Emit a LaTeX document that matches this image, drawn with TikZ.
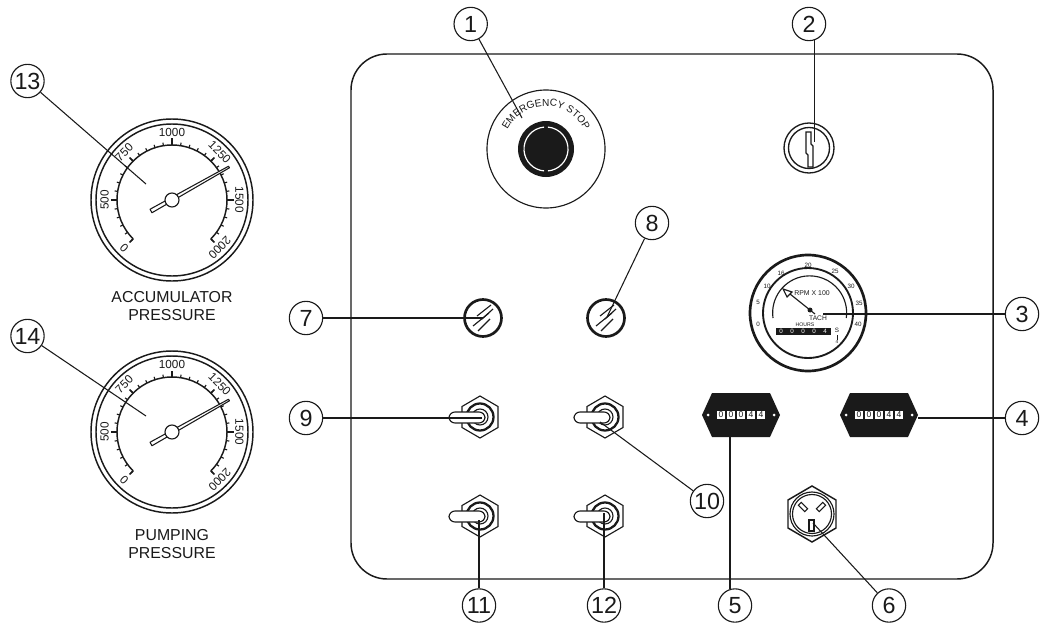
\documentclass[tikz,border=0pt]{standalone}
\usepackage{fontspec}
\setmainfont{Liberation Sans}
\usetikzlibrary{decorations.text,calc}
\definecolor{ink}{HTML}{1A1A1A}
\newcommand{\fs}[1]{\fontsize{#1}{#1}\selectfont}
\tikzset{
  x=.75pt,y=.75pt,
  ln/.style={draw=ink,line width=.85pt},
  leader/.style={draw=ink,line width=.8pt},
  callout/.style={circle,draw=ink,line width=.85pt,minimum size=25pt,inner sep=0pt,font=\fs{17.5},text=ink},
  dial/.style={font=\fs{8.8},text=ink,inner sep=0pt},
  caption/.style={font=\fs{11.9},text=ink,inner sep=0pt,align=center},
  tiny/.style={font=\fs{4.7},text=ink,inner sep=0pt},
}
\newcommand{\gauge}[7]{%
 \begin{scope}[shift={(#2,-#3)}]
  \coordinate (#1) at (0,0);
  \draw[ln,line width=1.1pt] (0,0) circle (81);
  \draw[ln,line width=1.1pt] (0,0) circle (76);
  \draw[ln,line width=1.1pt] (225:55) arc (225:-45:55);
  \foreach \a in {225,216,...,-45} {\draw[ln] (\a:55) -- (\a:58);}
  \foreach \a in {225,135,45,-45} {\draw[ln,line width=1.1pt] (\a:55) -- (\a:60);}
  \foreach \a in {180,90,0} {\draw[ln,line width=1.3pt] (\a:55) -- (\a:61.5);}
  \foreach \a/\t in {225/0,180/500,135/750,90/1000,45/1250,0/1500,-45/2000}
    {\pgfmathsetmacro\r{\a-90}\node[dial,rotate=\r] at (\a:67.5) {\t};}
  \draw[ln,fill=white,line join=round,line width=.8pt] let \n1={atan2(#5-#7,#4-#6)} in
     (#4,#5) -- ++(\n1+90:.9) -- ($(#6,#7)+(\n1+90:2)$) -- ($(#6,#7)+(\n1-90:2)$) -- ($(#4,#5)+(\n1-90:.9)$) -- cycle;
  \draw[ln,fill=white] (0,0) circle (7);
 \end{scope}}
\newcommand{\toggle}[3]{%
 \begin{scope}[shift={(#2,-#3)}]
  \coordinate (#1) at (0,0);
  \draw[ln] (0,21) -- (18,10.5) -- (18,-10.5) -- (0,-21) -- (-18,-10.5) -- (-18,10.5) -- cycle;
  \draw[ln,line width=1.7pt] (0,0) circle (13.5);
  \draw[ln] (0,0) circle (8);
  \draw[ln,fill=white,rounded corners=4.5] (-31,-6) rectangle (5,5);
 \end{scope}}
\newcommand{\lampbody}[3]{%
 \begin{scope}[shift={(#2,-#3)}]
  \coordinate (#1) at (0,0);
  \draw[ln,line width=2pt] (0,0) circle (18.5);
  \draw[ln] (-6,2) -- (8,13);
  \draw[ln] (-1,-1) -- (10,9);
  \draw[ln] (-10,-8) -- (6,5);
  \draw[ln] (-5,-13) -- (7,-1);
 \end{scope}}
\newcommand{\counterbox}[3]{%
 \begin{scope}[shift={(#2,-#3)}]
  \coordinate (#1) at (0,0);
  \fill[ink] (-39,0) -- (-29,22) -- (29,22) -- (39,0) -- (29,-22) -- (-29,-22) -- cycle;
  \fill[white] (-33,0) circle (1.5) (33,0) circle (1.5);
  \foreach \i/\d in {0/0,1/0,2/0,3/4,4/4} {
    \node[fill=white,inner sep=0pt,minimum width=6pt,minimum height=6.2pt,font=\fs{6.4},text=ink] at (-20+\i*10,0) {\d};}
 \end{scope}}
\begin{document}
\begin{tikzpicture}
\useasboundingbox (0,-624) rectangle (1044,0);
\fill[white] (0,-624) rectangle (1044,0);
\draw[ink,line width=1.1pt,rounded corners=27pt] (351,-54) rectangle (993,-579);
\gauge{g13}{172}{200}{57}{33}{-21}{-11}
\gauge{g14}{172}{432}{57}{32}{-21}{-12}
\node[caption] (capA) at (172,-306) {ACCUMULATOR\\[1.6pt]PRESSURE};
\node[caption] (capB) at (172,-544) {PUMPING\\[1.6pt]PRESSURE};
\begin{scope}[shift={(546,-149)}]
 \coordinate (estop) at (0,0);
 \draw[ln] (0,0) circle (59);
 \fill[ink] (0,0) circle (28);
 \draw[white,line width=.9pt] (85:22) arc (85:-85:22);
 \draw[white,line width=.9pt] (95:22) arc (95:265:22);
 \path[postaction={decorate,decoration={text along path,text align=center,
   text={|\fs{7.6}\color{ink}|EMERGENCY STOP}}}] (175:43) arc (175:5:43);
\end{scope}
\begin{scope}[shift={(809,-148)}]
 \coordinate (key) at (0,0);
 \draw[ln,line width=1pt] (0,0) circle (25);
 \draw[ln,line width=1pt] (0,0) circle (20.5);
 \draw[ln] (-3,16) -- (2,16) -- (2,4) -- (4,2) -- (4,-19) -- (-1,-19) -- (-1,-7) -- (-3,-5) -- cycle;
\end{scope}
\begin{scope}[shift={(808,-313)}]
 \coordinate (tach) at (0,0);
 \draw[ln,line width=2pt] (0,0) circle (58);
 \draw[ln,line width=1.4pt] (0,0) circle (45);
 \draw[ln] (-35,-5) arc (188:-8:37);
 \foreach \x/\y/\t in {-50/-11/0,-50/11/5,-41/27/10,-27/40/16,0/48/20,27/42/25,43/27/30,51/10/35,50/-11/40}
   {\node[tiny] at (\x,\y) {\t};}
 \node[tiny,font=\fs{5.2}] (rpm) at (4,20) {RPM X 100};
 \node[tiny,font=\fs{5}] (tachlabel) at (10,-5) {TACH};
 \node[tiny,font=\fs{3.9}] (hours) at (-3,-12) {HOURS};
 \fill[ink] (-32,-15) rectangle (23,-22);
 \foreach \i/\d in {0/0,1/0,2/0,3/0,4/4}
   {\node[tiny,text=white] at (-27+\i*11,-18.5) {\d};}
 \node[tiny] at (29,-17.5) {S};
 \draw[ln,line width=.5pt] (29,-22) -- (29,-27);
 \node[tiny,font=\fs{3.6}] at (29,-29) {4};
 \fill[ink] (2,3) circle (2.5);
 \draw[ln] (7,-1) -- (-18,19);
 \draw[ln,fill=white] (-25,24) -- (-16,21) -- (-21,16) -- cycle;
\end{scope}
\lampbody{l7}{483}{318}
\lampbody{l8}{606}{318}
\toggle{t9}{480}{417}
\toggle{t10}{605}{417}
\toggle{t11}{480}{516}
\toggle{t12}{605}{516}
\counterbox{c5}{741}{415}
\counterbox{c4}{879}{415}
\begin{scope}[shift={(812,-514)}]
 \coordinate (sock) at (0,0);
 \draw[ln,line width=1.1pt] (0,28) -- (24,14) -- (24,-14) -- (0,-28) -- (-24,-14) -- (-24,14) -- cycle;
 \draw[ln] (0,0) circle (22);
 \draw[ln] (0,0) circle (19.5);
 \draw[ln,rotate around={-45:(-9,7)}] (-13.5,5) rectangle (-4.5,9);
 \draw[ln,rotate around={45:(9,7)}] (4.5,5) rectangle (13.5,9);
 \draw[ln] (-3,-6) rectangle (2,-17);
\end{scope}
\node[callout] (n1) at (470.7,-24) {1};
\node[callout] (n2) at (809,-24) {2};
\node[callout] (n3) at (1022,-314) {3};
\node[callout] (n4) at (1022,-418) {4};
\node[callout] (n5) at (735,-605.5) {5};
\node[callout] (n6) at (889,-605.5) {6};
\node[callout] (n7) at (306,-318) {7};
\node[callout] (n8) at (652,-223) {8};
\node[callout] (n9) at (306,-418) {9};
\node[callout] (n10) at (707,-501) {10};
\node[callout] (n11) at (479,-605.5) {11};
\node[callout] (n12) at (604,-605.5) {12};
\node[callout] (n13) at (27.5,-81) {13};
\node[callout] (n14) at (27.5,-336) {14};
\coordinate (e1) at (522,-118);
\coordinate (e2) at (814.7,-142);
\coordinate (e3) at (823,-314);
\coordinate (e4) at (918,-418);
\coordinate (e5) at (730,-437);
\coordinate (e6) at (813,-523);
\coordinate (e7) at (483,-318);
\coordinate (e8) at (607,-317);
\coordinate (e9) at (482,-418);
\coordinate (e10) at (600,-422);
\coordinate (e11) at (479,-520);
\coordinate (e12) at (604,-513);
\coordinate (e13) at (146,-184);
\coordinate (e14) at (146,-416);
\draw[leader] (n1) -- (e1);
\draw[leader] (n2.-70.4) -- (n2.-70.4 |- e2);
\draw[leader] (n3) -- (e3);
\draw[leader] (n4) -- (e4);
\draw[leader] (n5.107) -- (n5.107 |- e5);
\draw[leader] (n6) -- (e6);
\draw[leader] (n7) -- (e7);
\draw[leader] (n8) -- (e8);
\draw[leader] (n9) -- (e9);
\draw[leader] (n10) -- (e10);
\draw[leader] (n11) -- (e11);
\draw[leader] (n12) -- (e12);
\draw[leader] (n13) -- (e13);
\draw[leader] (n14) -- (e14);
\end{tikzpicture}
\end{document}
